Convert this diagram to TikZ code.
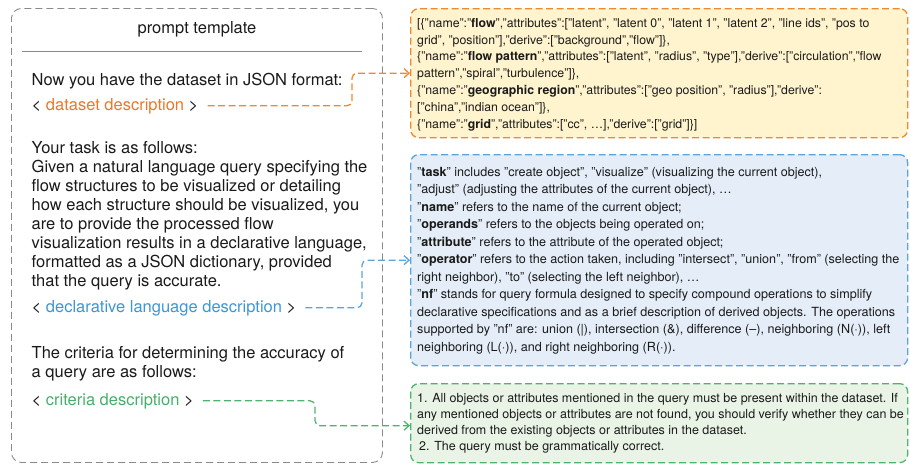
\documentclass[tikz,border=0pt]{standalone}
\usepackage{fontspec}
\setmainfont{TeX Gyre Heros}
\usetikzlibrary{arrows.meta}
\definecolor{oline}{HTML}{EE8A2E}
\definecolor{ofill}{HTML}{FFF4CE}
\definecolor{otext}{HTML}{E8782A}
\definecolor{bline}{HTML}{5AA5DA}
\definecolor{bfill}{HTML}{E5EEF8}
\definecolor{btext}{HTML}{3D96D4}
\definecolor{gline}{HTML}{4DB46E}
\definecolor{gfill}{HTML}{E9F4E6}
\definecolor{gtext}{HTML}{45B06A}
\definecolor{pgray}{HTML}{8A8A8A}
\definecolor{ink}{HTML}{1A1A1A}
\newcommand{\lefttext}[2]{\parbox[t]{400pt}{\raggedright\fontsize{16.5}{#1}\selectfont #2}}
\newcommand{\righttext}[3]{\parbox[t]{600pt}{\raggedright\fontsize{#1}{#2}\selectfont #3}}
\tikzset{
  panel/.style={draw=pgray, line width=0.9pt, dash pattern=on 7pt off 4pt, rounded corners=10pt, anchor=north west, inner sep=0pt},
  rbox/.style={line width=1.3pt, dash pattern=on 7pt off 3.5pt, rounded corners=8pt, anchor=north west, inner sep=0pt, minimum width=497pt},
  txt/.style={anchor=base west, inner sep=0pt, text=ink},
  ref/.style={anchor=base west, inner sep=0pt, text=ink, font=\fontsize{16.5}{19}\selectfont},
  link/.style={line width=1.3pt, dash pattern=on 7pt off 3.5pt, rounded corners=5pt, -{Straight Barb[length=5pt,width=9pt]}, shorten <=9pt},
}
\begin{document}
\begin{tikzpicture}[x=1pt,y=-1pt]
\useasboundingbox (0,0) rectangle (910,464);
% left panel
\node[panel, minimum width=371pt, minimum height=454pt] (panel) at (11,8) {};
\node[anchor=base, inner sep=0pt, text=ink, font=\fontsize{16.5}{19}\selectfont] (title) at (197,33) {prompt template};
\coordinate (rl) at (22,51);
\coordinate (rr) at (362,51);
\draw[pgray, line width=1pt] (rl) -- (rr);
\node[txt] (p1) at (31.5,85) {\lefttext{19}{Now you have the dataset in JSON format:}};
\node[ref] (d1) at (31.5,110) {< \textcolor{otext}{dataset description} >};
\node[txt] (p2) at (31.5,153) {\lefttext{19}{Your task is as follows:\\
Given a natural language query specifying the\\
flow structures to be visualized or detailing\\
how each structure should be visualized, you\\
are to provide the processed flow\\
visualization results in a declarative language,\\
formatted as a JSON dictionary, provided\\
that the query is accurate.}};
\node[ref] (d2) at (31.5,312) {< \textcolor{btext}{declarative language description} >};
\node[txt] (p3) at (31.5,358) {\lefttext{19}{The criteria for determining the accuracy of\\
a query are as follows:}};
\node[ref] (d3) at (31.5,405) {< \textcolor{gtext}{criteria description} >};
% right boxes
\node[rbox, draw=oline, fill=ofill, minimum height=129pt] (obox) at (410,8) {};
\node[rbox, draw=bline, fill=bfill, minimum height=211pt] (bbox) at (410,154) {};
\node[rbox, draw=gline, fill=gfill, minimum height=79pt] (gbox) at (410,383) {};
\node[txt] (ot) at (417,27.3) {\righttext{12.3}{16.83}{[\{"name":"\textbf{flow}","attributes":["latent", "latent 0", "latent 1", "latent 2", "line ids", "pos to\\
grid", "position"],"derive":["background","flow"]\},\\
\{"name":"\textbf{flow pattern}","attributes":["latent", "radius", "type"],"derive":["circulation","flow\\
pattern","spiral","turbulence"]\},\\
\{"name":"\textbf{geographic region}","attributes":["geo position", "radius"],"derive":\\
{}["china","indian ocean"]\},\\
\{"name":"\textbf{grid}","attributes":["cc", …],"derive":["grid"]\}]}};
\node[txt] (bt) at (417,176) {\righttext{12.6}{17.5}{"\textbf{task}" includes "create object", "visualize" (visualizing the current object),\\
"adjust" (adjusting the attributes of the current object), …\\
"\textbf{name}" refers to the name of the current object;\\
"\textbf{operands}" refers to the objects being operated on;\\
"\textbf{attribute}" refers to the attribute of the operated object;\\
"\textbf{operator}" refers to the action taken, including "intersect", "union", "from" (selecting the\\
right neighbor), "to" (selecting the left neighbor), …\\
"\textbf{nf}" stands for query formula designed to specify compound operations to simplify\\
declarative specifications and as a brief description of derived objects. The operations\\
supported by "nf" are: union (|), intersection (\&), difference (–), neighboring (N(·)), left\\
neighboring (L(·)), and right neighboring (R(·)).}};
\node[txt] (gt) at (417,402) {\righttext{12.5}{16.3}{1. All objects or attributes mentioned in the query must be present within the dataset. If\\
any mentioned objects or attributes are not found, you should verify whether they can be\\
derived from the existing objects or attributes in the dataset.\\
\hspace*{2pt}2. The query must be grammatically correct.}};
% connectors
\coordinate (k1) at (352,0);
\coordinate (k2) at (362,0);
\coordinate (k3) at (315,0);
\draw[link, oline] (d1.east) -- (d1.east -| k1) -- (k1 |- obox.west) -- (obox.west);
\draw[link, bline] (d2.east) -- (d2.east -| k2) -- (k2 |- bbox.west) -- (bbox.west);
\draw[link, gline] (d3.east) -- (d3.east -| k3) -- ([yshift=-2.5pt]k3 |- gbox.west) -- ([yshift=-2.5pt]gbox.west);
\end{tikzpicture}
\end{document}
